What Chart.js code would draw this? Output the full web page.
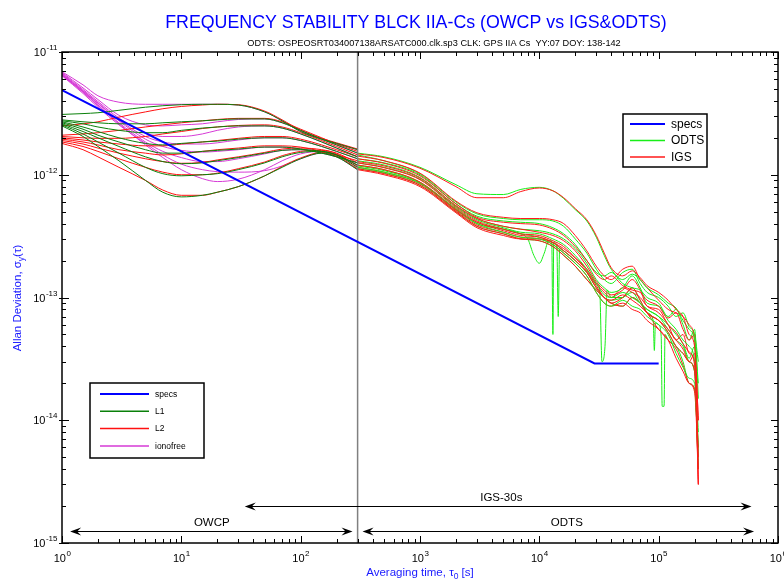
<!DOCTYPE html>
<html>
<head>
<meta charset="utf-8">
<script src="https://cdn.jsdelivr.net/npm/chart.js@4/dist/chart.umd.min.js"></script>
<style>
  body { margin: 0; background: #fff; }
  canvas { display: block; }
</style>
</head>
<body>
<canvas id="chart" width="784" height="581"></canvas>
<script>
// all deviation values are in units of 1e-12
const UNIT = 1e-12;

const specsTau = [1, 29000, 100000];
const specsVal = [4.9, 0.029, 0.029];

const splitTau = 300;

// OWCP part (tau 1 .. 300 s)
const tauOwcp = [1, 1.5, 2, 3, 5, 7, 10, 15, 20, 30, 50, 70, 100, 150, 200, 300];

const l1A = [3.1, 3.15, 3.2, 3.35, 3.55, 3.65, 3.72, 3.75, 3.75, 3.7, 3.25, 2.75, 2.25, 1.95, 1.8, 1.6];
const l1B = [2.8, 2.7, 2.65, 2.6, 2.6, 2.65, 2.7, 2.75, 2.8, 2.85, 2.85, 2.65, 2.3, 1.95, 1.75, 1.5];
const l1C = [2.75, 2.6, 2.45, 2.3, 2.2, 2.2, 2.3, 2.4, 2.45, 2.5, 2.5, 2.4, 2.15, 1.85, 1.65, 1.4];
const l1D = [2.7, 2.45, 2.25, 2.0, 1.8, 1.75, 1.8, 1.85, 1.88, 1.95, 2.0, 2.0, 1.9, 1.7, 1.55, 1.35];
const l1E = [2.65, 2.35, 2.1, 1.85, 1.6, 1.5, 1.5, 1.55, 1.58, 1.62, 1.68, 1.68, 1.62, 1.5, 1.4, 1.25];
const l1F = [2.6, 2.25, 2.0, 1.7, 1.4, 1.28, 1.23, 1.25, 1.3, 1.38, 1.5, 1.58, 1.6, 1.55, 1.45, 1.2];
const l1G = [2.55, 2.15, 1.85, 1.5, 1.15, 1.02, 0.98, 1.0, 1.02, 1.1, 1.25, 1.4, 1.52, 1.55, 1.45, 1.15];
const l1H = [2.5, 2.05, 1.7, 1.3, 0.9, 0.72, 0.66, 0.68, 0.72, 0.8, 0.98, 1.15, 1.35, 1.5, 1.4, 1.1];

const l2A = [2.5, 2.6, 2.7, 2.95, 3.25, 3.45, 3.6, 3.7, 3.75, 3.72, 3.3, 2.8, 2.3, 1.98, 1.82, 1.62];
const l2B = [2.1, 2.15, 2.2, 2.3, 2.45, 2.55, 2.65, 2.75, 2.82, 2.88, 2.88, 2.7, 2.35, 2.0, 1.78, 1.55];
const l2C = [2.05, 2.0, 1.98, 1.98, 2.05, 2.15, 2.25, 2.38, 2.45, 2.52, 2.55, 2.45, 2.2, 1.9, 1.7, 1.45];
const l2D = [2.0, 1.92, 1.85, 1.78, 1.72, 1.72, 1.78, 1.85, 1.9, 1.98, 2.05, 2.05, 1.95, 1.75, 1.6, 1.4];
const l2E = [1.95, 1.85, 1.75, 1.6, 1.5, 1.45, 1.48, 1.55, 1.6, 1.65, 1.72, 1.72, 1.68, 1.55, 1.45, 1.3];
const l2F = [1.9, 1.78, 1.65, 1.5, 1.35, 1.28, 1.24, 1.26, 1.32, 1.4, 1.52, 1.62, 1.65, 1.6, 1.5, 1.25];
const l2G = [1.85, 1.7, 1.55, 1.35, 1.15, 1.05, 1.0, 1.0, 1.03, 1.12, 1.27, 1.43, 1.55, 1.58, 1.48, 1.18];
const l2H = [1.8, 1.6, 1.4, 1.15, 0.9, 0.75, 0.68, 0.68, 0.72, 0.8, 0.98, 1.17, 1.37, 1.52, 1.42, 1.12];

const ifA = [6.9, 5.4, 4.4, 3.9, 3.75, 3.75, 3.75, 3.75, 3.75, 3.7, 3.25, 2.75, 2.25, 1.95, 1.8, 1.6];
const ifB = [6.8, 5.1, 4.1, 3.05, 2.55, 2.5, 2.55, 2.6, 2.7, 2.82, 2.85, 2.65, 2.3, 1.95, 1.75, 1.5];
const ifC = [6.7, 4.95, 3.95, 2.9, 2.2, 2.05, 2.05, 2.15, 2.3, 2.45, 2.5, 2.4, 2.15, 1.85, 1.65, 1.4];
const ifD = [6.6, 4.85, 3.85, 2.8, 2.05, 1.85, 1.78, 1.78, 1.82, 1.92, 2.0, 2.0, 1.9, 1.7, 1.55, 1.35];
const ifE = [6.55, 4.8, 3.8, 2.75, 1.95, 1.7, 1.58, 1.53, 1.55, 1.6, 1.68, 1.68, 1.62, 1.5, 1.4, 1.25];
const ifF = [6.5, 4.75, 3.7, 2.65, 1.85, 1.55, 1.38, 1.28, 1.28, 1.35, 1.48, 1.58, 1.6, 1.55, 1.45, 1.2];
const ifG = [6.45, 4.7, 3.65, 2.6, 1.75, 1.38, 1.1, 0.93, 0.88, 0.92, 1.1, 1.3, 1.48, 1.55, 1.45, 1.15];
const ifH = [6.4, 4.6, 3.55, 2.55, 1.8, 1.45, 1.22, 1.1, 1.06, 1.05, 1.08, 1.18, 1.35, 1.5, 1.4, 1.1];

const owcpL1 = [l1A, l1B, l1C, l1D, l1E, l1F, l1G, l1H];
const owcpL2 = [l2A, l2B, l2C, l2D, l2E, l2F, l2G, l2H];
const owcpIono = [ifA, ifB, ifC, ifD, ifE, ifF, ifG, ifH];

// ODTS / IGS part (tau 300 s .. 2.15e5 s)
const tauLong = [300, 500, 1000, 2000, 3000, 5000, 7000, 1e4, 1.3e4, 1.6e4, 2e4, 2.5e4, 3e4,
  3.5e4, 4e4, 5e4, 6e4, 7e4, 8e4, 1e5, 1.2e5, 1.4e5, 1.6e5, 1.8e5, 2e5, 2.15e5];

const odtsA = [1.5, 1.4, 1.15, 0.83, 0.7, 0.69, 0.76, 0.79, 0.74, 0.64, 0.52, 0.42, 0.31, 0.22, 0.17, 0.14, 0.155, 0.14, 0.12, 0.105, 0.09, 0.082, 0.065, 0.055, 0.045, 0.02];
const odtsB = [1.45, 1.3, 1.02, 0.6, 0.48, 0.44, 0.43, 0.43, 0.42, 0.38, 0.3, 0.23, 0.17, 0.14, 0.13, 0.16, 0.17, 0.13, 0.11, 0.1, 0.085, 0.07, 0.075, 0.058, 0.05, 0.03];
const odtsC = [1.35, 1.25, 1.0, 0.58, 0.46, 0.42, 0.41, 0.4, 0.37, 0.33, 0.27, 0.2, 0.16, 0.15, 0.16, 0.13, 0.12, 0.115, 0.1, 0.09, 0.07, 0.08, 0.06, 0.045, 0.055, 0.015];
const odtsD = [1.3, 1.2, 0.95, 0.56, 0.44, 0.38, 0.36, 0.35, 0.33, 0.3, 0.25, 0.19, 0.14, 0.12, 0.11, 0.12, 0.15, 0.12, 0.09, 0.085, 0.065, 0.055, 0.045, 0.04, 0.03, 0.008];
const odtsE = [1.25, 1.15, 0.92, 0.55, 0.43, 0.37, 0.34, 0.33, 0.3, 0.27, 0.22, 0.17, 0.13, 0.105, 0.1, 0.11, 0.1, 0.09, 0.08, 0.07, 0.06, 0.05, 0.042, 0.032, 0.04, 0.005];
const odtsF = [1.15, 1.05, 0.85, 0.52, 0.4, 0.34, 0.31, 0.3, 0.27, 0.23, 0.19, 0.15, 0.11, 0.09, 0.085, 0.095, 0.085, 0.08, 0.07, 0.06, 0.05, 0.035, 0.027, 0.022, 0.02, 0.004];

const tauSpikeA = [300, 500, 1000, 2000, 3000, 5000, 7000, 8000, 9000, 1e4, 1.1e4, 1.2e4, 1.27e4, 1.3e4, 1.32e4,
  1.4e4, 1.44e4, 1.48e4, 1.6e4, 2e4, 2.5e4, 3e4, 3.5e4, 4e4, 5e4, 6e4, 7e4, 8e4, 1e5, 1.2e5, 1.4e5, 1.6e5, 1.8e5, 2e5, 2.15e5];
const odtsSpikeA = [1.18, 1.08, 0.86, 0.52, 0.4, 0.36, 0.33, 0.3, 0.22, 0.19, 0.23, 0.29, 0.29, 0.05, 0.28,
  0.27, 0.07, 0.25, 0.24, 0.2, 0.16, 0.12, 0.1, 0.095, 0.1, 0.11, 0.09, 0.08, 0.07, 0.055, 0.045, 0.04, 0.03, 0.025, 0.006];

const tauSpikeB = [300, 500, 1000, 2000, 3000, 5000, 7000, 1e4, 1.3e4, 1.6e4, 2e4, 2.5e4, 3e4, 3.2e4, 3.35e4,
  3.55e4, 3.7e4, 4e4, 5e4, 6e4, 7e4, 8e4, 1e5, 1.2e5, 1.4e5, 1.6e5, 1.8e5, 2e5, 2.15e5];
const odtsSpikeB = [1.2, 1.1, 0.87, 0.53, 0.41, 0.36, 0.33, 0.31, 0.28, 0.24, 0.2, 0.16, 0.13, 0.12, 0.03,
  0.04, 0.115, 0.1, 0.1, 0.12, 0.095, 0.075, 0.065, 0.052, 0.04, 0.035, 0.03, 0.025, 0.004];

const tauSpikeC = [300, 500, 1000, 2000, 3000, 5000, 7000, 1e4, 1.3e4, 1.6e4, 2e4, 2.5e4, 3e4, 3.5e4, 4e4,
  5e4, 6e4, 7e4, 8e4, 9e4, 9.2e4, 9.4e4, 1e5, 1.05e5, 1.07e5, 1.11e5, 1.13e5, 1.2e5, 1.4e5, 1.6e5, 1.8e5, 2e5, 2.15e5];
const odtsSpikeC = [1.12, 1.03, 0.82, 0.5, 0.38, 0.33, 0.3, 0.29, 0.26, 0.22, 0.18, 0.14, 0.115, 0.1, 0.09,
  0.085, 0.1, 0.09, 0.075, 0.065, 0.037, 0.062, 0.06, 0.048, 0.013, 0.013, 0.05, 0.045, 0.04, 0.03, 0.02, 0.018, 0.005];

const igsA = [1.48, 1.38, 1.13, 0.8, 0.65, 0.65, 0.73, 0.78, 0.74, 0.65, 0.53, 0.43, 0.32, 0.23, 0.175, 0.15, 0.165, 0.145, 0.125, 0.11, 0.095, 0.08, 0.07, 0.05, 0.04, 0.01];
const igsB = [1.42, 1.3, 1.03, 0.61, 0.49, 0.45, 0.44, 0.44, 0.43, 0.4, 0.32, 0.24, 0.18, 0.15, 0.14, 0.17, 0.18, 0.14, 0.12, 0.095, 0.08, 0.075, 0.07, 0.06, 0.045, 0.01];
const igsC = [1.35, 1.24, 0.98, 0.58, 0.45, 0.41, 0.4, 0.39, 0.36, 0.32, 0.26, 0.2, 0.155, 0.14, 0.15, 0.125, 0.115, 0.11, 0.095, 0.085, 0.068, 0.075, 0.055, 0.045, 0.05, 0.003];
const igsD = [1.28, 1.18, 0.94, 0.56, 0.44, 0.38, 0.36, 0.34, 0.32, 0.29, 0.24, 0.18, 0.135, 0.115, 0.105, 0.115, 0.14, 0.115, 0.085, 0.08, 0.06, 0.052, 0.042, 0.036, 0.028, 0.005];
const igsE = [1.25, 1.14, 0.91, 0.54, 0.42, 0.36, 0.33, 0.32, 0.29, 0.26, 0.21, 0.165, 0.125, 0.1, 0.095, 0.105, 0.095, 0.085, 0.075, 0.065, 0.055, 0.045, 0.038, 0.03, 0.035, 0.004];
const igsF = [1.2, 1.1, 0.87, 0.52, 0.41, 0.35, 0.32, 0.31, 0.28, 0.24, 0.2, 0.16, 0.12, 0.1, 0.09, 0.1, 0.12, 0.095, 0.075, 0.065, 0.052, 0.04, 0.035, 0.03, 0.025, 0.003];
const igsG = [1.15, 1.05, 0.84, 0.51, 0.39, 0.34, 0.31, 0.3, 0.27, 0.23, 0.19, 0.15, 0.11, 0.09, 0.085, 0.09, 0.08, 0.075, 0.065, 0.055, 0.045, 0.032, 0.025, 0.02, 0.018, 0.006];
const igsH = [1.12, 1.02, 0.82, 0.5, 0.38, 0.33, 0.3, 0.29, 0.26, 0.22, 0.18, 0.14, 0.115, 0.1, 0.09, 0.085, 0.1, 0.09, 0.075, 0.055, 0.045, 0.038, 0.028, 0.02, 0.017, 0.004];
const igsI = [1.1, 1.0, 0.8, 0.49, 0.37, 0.32, 0.3, 0.3, 0.28, 0.25, 0.21, 0.17, 0.13, 0.11, 0.1, 0.12, 0.11, 0.1, 0.085, 0.075, 0.06, 0.045, 0.05, 0.035, 0.03, 0.003];

const odtsCurves = [odtsA, odtsB, odtsC, odtsD, odtsE, odtsF];
const igsCurves = [igsA, igsB, igsC, igsD, igsE, igsF, igsG, igsH, igsI];

// span arrows under the curves
const spanLabels = ['OWCP', 'IGS-30s', 'ODTS'];
const spanFrom = [1.17, 34, 330];
const spanTo = [272, 6.0e5, 6.3e5];
const spanLevel = [1.26e-15, 2.0e-15, 1.26e-15];
const spanLabelTau = [18, 4800, 1.7e4];

const title = 'FREQUENCY STABILITY BLCK IIA-Cs (OWCP vs IGS&ODTS)';
const subtitle = 'ODTS: OSPEOSRT034007138ARSATC000.clk.sp3 CLK: GPS IIA Cs  YY:07 DOY: 138-142';

const colors = {
  specs: '#0000ff', l1: '#0a800a', l2: '#ff1010', iono: '#d63ad6',
  odts: '#18ee18', igs: '#ff1a1a', split: '#808080'
};
const legendRight = [['specs', colors.specs], ['ODTS', colors.odts], ['IGS', colors.igs]];
const legendLeft = [['specs', colors.specs], ['L1', colors.l1], ['L2', colors.l2], ['ionofree', colors.iono]];

const FONT = '"Liberation Sans", Arial, Helvetica, sans-serif';

function line(tau, vals, color, width, smooth = true) {
  return {
    data: tau.map((t, i) => ({ x: t, y: vals[i] * UNIT })),
    borderColor: color,
    borderWidth: width,
    pointRadius: 0,
    fill: false,
    tension: 0,
    cubicInterpolationMode: smooth ? 'monotone' : 'default'
  };
}

const datasets = [];
datasets.push(line(specsTau, specsVal, colors.specs, 2, false));
datasets.push({
  data: [{ x: splitTau, y: 1e-15 }, { x: splitTau, y: 1e-11 }],
  borderColor: colors.split, borderWidth: 1.5, pointRadius: 0, tension: 0
});
owcpL1.forEach(v => datasets.push(line(tauOwcp, v, colors.l1, 1)));
owcpL2.forEach(v => datasets.push(line(tauOwcp, v, colors.l2, 1)));
owcpIono.forEach(v => datasets.push(line(tauOwcp, v, colors.iono, 1)));
igsCurves.forEach((v, i) => {
  datasets.push(line(tauLong, v, colors.igs, 1));
  if (odtsCurves[i]) datasets.push(line(tauLong, odtsCurves[i], colors.odts, 1));
});
datasets.push(line(tauSpikeA, odtsSpikeA, colors.odts, 1));
datasets.push(line(tauSpikeB, odtsSpikeB, colors.odts, 1));
datasets.push(line(tauSpikeC, odtsSpikeC, colors.odts, 1));

function drawPow(ctx, exp, x, y, align) {
  ctx.font = '11px ' + FONT;
  const wb = ctx.measureText('10').width;
  ctx.font = '8px ' + FONT;
  const we = ctx.measureText(exp).width;
  let left = align === 'right' ? x - wb - we : x - (wb + we) / 2;
  ctx.textAlign = 'left';
  ctx.font = '11px ' + FONT;
  ctx.fillText('10', left, y);
  ctx.font = '8px ' + FONT;
  ctx.fillText(exp, left + wb + 0.5, y - 6);
}

function arrowHead(ctx, x, y, dir) {
  ctx.beginPath();
  ctx.moveTo(x, y);
  ctx.lineTo(x - dir * 11, y - 4);
  ctx.lineTo(x - dir * 7, y);
  ctx.lineTo(x - dir * 11, y + 4);
  ctx.closePath();
  ctx.fill();
}

function drawLegend(ctx, items, box, lineX0, lineX1, firstY, stepY, fontPx) {
  ctx.fillStyle = '#fff';
  ctx.fillRect(box[0], box[1], box[2], box[3]);
  ctx.strokeStyle = '#000';
  ctx.lineWidth = 1.5;
  ctx.strokeRect(box[0], box[1], box[2], box[3]);
  ctx.font = fontPx + 'px ' + FONT;
  ctx.textAlign = 'left';
  ctx.textBaseline = 'middle';
  items.forEach(([label, color], i) => {
    const yy = firstY + i * stepY;
    ctx.strokeStyle = color;
    ctx.lineWidth = label === 'specs' ? 2 : 1.5;
    ctx.beginPath();
    ctx.moveTo(lineX0, yy);
    ctx.lineTo(lineX1, yy);
    ctx.stroke();
    ctx.fillStyle = '#000';
    ctx.fillText(label, lineX1 + 6, yy + 0.5);
  });
  ctx.textBaseline = 'alphabetic';
}

const decorations = {
  id: 'decorations',
  afterDatasetsDraw(chart) {
    const { ctx, chartArea: a, scales: { x, y } } = chart;
    ctx.save();

    // frame
    ctx.strokeStyle = '#000';
    ctx.lineWidth = 1.5;
    ctx.strokeRect(a.left, a.top, a.right - a.left, a.bottom - a.top);

    // inward ticks on all four sides
    ctx.lineWidth = 1;
    ctx.beginPath();
    for (let e = 0; e <= 6; e++) {
      for (let m = 1; m <= 9; m++) {
        const v = m * Math.pow(10, e);
        if (v > 1e6) break;
        const px = Math.round(x.getPixelForValue(v)) + 0.5;
        const len = m === 1 ? 7 : 4;
        ctx.moveTo(px, a.bottom); ctx.lineTo(px, a.bottom - len);
        ctx.moveTo(px, a.top); ctx.lineTo(px, a.top + len);
      }
    }
    for (let e = -15; e <= -11; e++) {
      for (let m = 1; m <= 9; m++) {
        const v = m * Math.pow(10, e);
        if (v > 1.0001e-11) break;
        const py = Math.round(y.getPixelForValue(v)) + 0.5;
        const len = m === 1 ? 7 : 4;
        ctx.moveTo(a.left - (m === 1 ? 3 : 0), py); ctx.lineTo(a.left + len, py);
        ctx.moveTo(a.right, py); ctx.lineTo(a.right - len, py);
      }
    }
    ctx.stroke();

    // tick labels
    ctx.fillStyle = '#000';
    for (let e = 0; e <= 6; e++) {
      drawPow(ctx, String(e), x.getPixelForValue(Math.pow(10, e)), 562, 'center');
    }
    for (let e = -15; e <= -11; e++) {
      drawPow(ctx, String(e), 57, y.getPixelForValue(Math.pow(10, e)) + 4, 'right');
    }

    // span arrows
    ctx.strokeStyle = '#000';
    ctx.fillStyle = '#000';
    ctx.lineWidth = 1;
    spanLabels.forEach((label, i) => {
      const x0 = x.getPixelForValue(spanFrom[i]);
      const x1 = x.getPixelForValue(spanTo[i]);
      const yy = Math.round(y.getPixelForValue(spanLevel[i])) + 0.5;
      ctx.beginPath();
      ctx.moveTo(x0 + 4, yy);
      ctx.lineTo(x1 - 4, yy);
      ctx.stroke();
      arrowHead(ctx, x0, yy, -1);
      arrowHead(ctx, x1, yy, 1);
      ctx.font = '11.5px ' + FONT;
      ctx.textAlign = 'center';
      ctx.fillText(label, x.getPixelForValue(spanLabelTau[i]), yy - 6);
    });

    // legends
    drawLegend(ctx, legendRight, [623, 114, 84, 53], 630, 665, 124, 16.5, 12);
    drawLegend(ctx, legendLeft, [90, 383, 114, 75], 100, 149, 394, 17.3, 8.5);

    // title and subtitle
    ctx.textAlign = 'center';
    ctx.fillStyle = '#0000ff';
    ctx.font = '17.8px ' + FONT;
    ctx.fillText(title, 416, 28);
    ctx.fillStyle = '#000';
    ctx.font = '9.2px ' + FONT;
    ctx.fillText(subtitle, 434, 46);

    // x axis title: Averaging time, tau_0 [s]
    ctx.fillStyle = '#1a1aff';
    const xt = [['Averaging time, \u03c4', 11.5, 0], ['0', 8.5, 3], [' [s]', 11.5, 0]];
    let wsum = 0;
    xt.forEach(([t, f]) => { ctx.font = f + 'px ' + FONT; wsum += ctx.measureText(t).width; });
    let cx = 420 - wsum / 2;
    ctx.textAlign = 'left';
    xt.forEach(([t, f, dy]) => {
      ctx.font = f + 'px ' + FONT;
      ctx.fillText(t, cx, 576 + dy);
      cx += ctx.measureText(t).width;
    });

    // y axis title: Allan Deviation, sigma_y(tau)
    ctx.save();
    ctx.translate(21, 298);
    ctx.rotate(-Math.PI / 2);
    const yt = [['Allan Deviation, \u03c3', 11.5, 0], ['y', 8.5, 3], ['(\u03c4)', 11.5, 0]];
    wsum = 0;
    yt.forEach(([t, f]) => { ctx.font = f + 'px ' + FONT; wsum += ctx.measureText(t).width; });
    cx = -wsum / 2;
    yt.forEach(([t, f, dy]) => {
      ctx.font = f + 'px ' + FONT;
      ctx.fillText(t, cx, dy);
      cx += ctx.measureText(t).width;
    });
    ctx.restore();

    ctx.restore();
  }
};

new Chart(document.getElementById('chart').getContext('2d'), {
  type: 'line',
  data: { datasets: datasets },
  options: {
    responsive: false,
    animation: false,
    devicePixelRatio: 1,
    events: [],
    layout: { padding: { left: 62, right: 6, top: 52, bottom: 38 } },
    plugins: { legend: { display: false }, tooltip: { enabled: false }, title: { display: false } },
    scales: {
      x: { type: 'logarithmic', min: 1, max: 1e6, display: false },
      y: { type: 'logarithmic', min: 1e-15, max: 1e-11, display: false }
    }
  },
  plugins: [decorations]
});
</script>
</body>
</html>
